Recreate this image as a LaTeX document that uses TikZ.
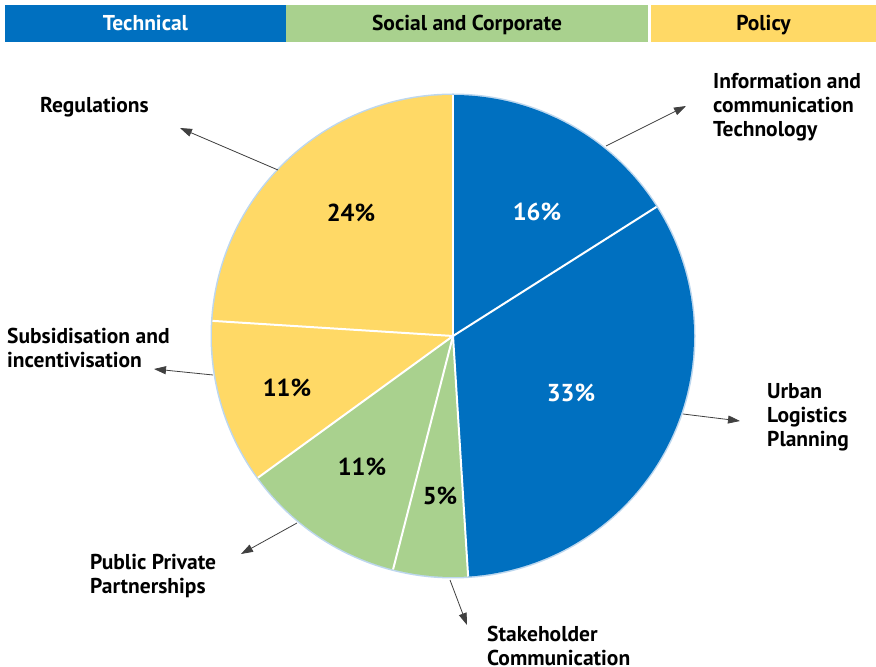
\documentclass[tikz,border=0pt]{standalone}
\usepackage{fontspec}
\setmainfont{PT Sans}
\usetikzlibrary{arrows.meta}
\definecolor{tblue}{HTML}{0070C0}
\definecolor{sgreen}{HTML}{A9D18E}
\definecolor{pyellow}{HTML}{FFD966}
\definecolor{rimblue}{HTML}{BDD7EE}
\definecolor{arrgray}{HTML}{404040}

\begin{document}
\begin{tikzpicture}
[x=1pt,y=1pt]
\tikzset{head/.style={minimum height=37pt,inner sep=0pt,text height=14pt,text depth=0pt,font=\fontsize{21.5}{24}\selectfont\bfseries},
	lab/.style={anchor=west,align=left,inner sep=0pt,font=\fontsize{21.5}{24}\selectfont\bfseries},
	pct/.style={font=\fontsize{24.5}{28}\selectfont\bfseries},
	arr/.style={arrgray,line width=0.8pt,-{Triangle[length=12pt,width=8pt]}}}
\useasboundingbox (0,0) rectangle (876,667);

% header bar
\node [head,fill=tblue,text=white,minimum width=281pt] (hT) at (145.5,643) {Technical};
\node [head,fill=sgreen,minimum width=362pt] (hS) at (467,643) {Social and Corporate};
\node [head,fill=pyellow,minimum width=225pt] (hP) at (763.5,643) {Policy};

% pie
\coordinate (c) at (453,331);
\fill [rimblue] (c) circle (242.5);
\foreach \a/\b/\col in {90/32.4/tblue,32.4/-86.4/tblue,-86.4/-104.4/sgreen,-104.4/-144/sgreen,-144/-183.6/pyellow,-183.6/-270/pyellow}
	\fill [\col] (c) -- ++(\a:241) arc (\a:\b:241) -- cycle;
\foreach \a in {90,32.4,-86.4,-104.4,-144,-183.6}
	\draw [white,line width=2pt] (c) -- ++(\a:241);

\node [pct,text=white] (p1) at (537,455) {16\%};
\node [pct,text=white] (p2) at (571,274) {33\%};
\node [pct] (p3) at (440,171) {5\%};
\node [pct] (p4) at (362,200) {11\%};
\node [pct] (p5) at (287,279) {11\%};
\node [pct] (p6) at (351,454) {24\%};

% labels
\node [lab] (ict) at (713,560) {Information and\\communication\\Technology};
\node [lab] (ulp) at (767,250) {Urban\\Logistics\\Planning};
\node [lab] (stc) at (487,21) {Stakeholder\\Communication};
\node [lab] (ppp) at (90,91) {Public Private\\Partnerships};
\node [lab] (sub) at (7,319) {Subsidisation and\\incentivisation};
\node [lab] (reg) at (40,560) {Regulations};

% arrow ends
\coordinate (a1) at (606,521);
\coordinate (b1) at (686,561);
\coordinate (a2) at (683,253);
\coordinate (b2) at (740,246);
\coordinate (a3) at (450,87);
\coordinate (b3) at (467,42);
\coordinate (a4) at (297,144);
\coordinate (b4) at (241,113);
\coordinate (a5) at (213,292);
\coordinate (b5) at (154,298);
\coordinate (a6) at (278,497);
\coordinate (b6) at (180,539);

\foreach \from/\to in {a1/b1,a2/b2,a3/b3,a4/b4,a5/b5,a6/b6}
	\draw [arr] (\from) -- (\to);

\end{tikzpicture}
\end{document}
